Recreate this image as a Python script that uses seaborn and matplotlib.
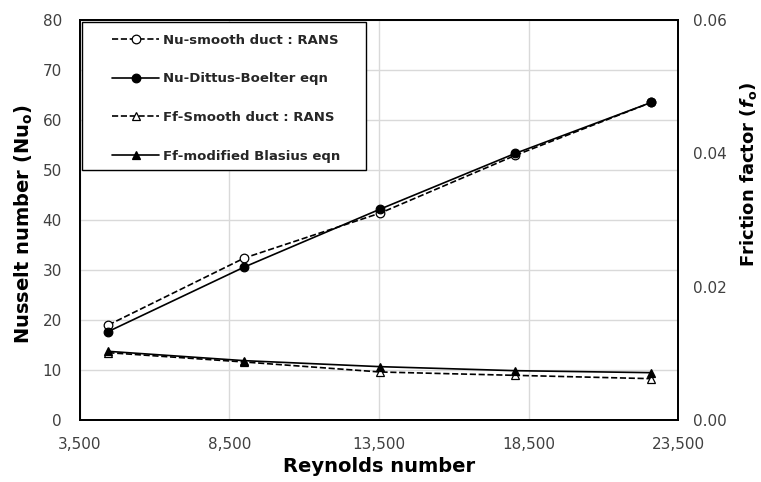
import matplotlib
matplotlib.use("Agg")
import matplotlib.pyplot as plt
from matplotlib.patches import Rectangle
import seaborn as sns
from matplotlib.ticker import FuncFormatter, FixedLocator, MultipleLocator

# Reynolds numbers of the simulated cases
reynolds = [4450, 9000, 13550, 18050, 22600]

# Nusselt number: RANS smooth duct and Dittus-Boelter correlation
nu_rans = [19.0, 32.4, 41.4, 52.9, 63.5]
nu_dittus = [17.7, 30.6, 42.2, 53.3, 63.5]

# Friction factor: RANS smooth duct and modified Blasius correlation
ff_rans = [0.0101, 0.0087, 0.0072, 0.0067, 0.0062]
ff_blasius = [0.0103, 0.0089, 0.0080, 0.0074, 0.0071]

x_ticks = [3500, 8500, 13500, 18500, 23500]

labels = [
    "Nu-smooth duct : RANS",
    "Nu-Dittus-Boelter eqn",
    "Ff-Smooth duct : RANS",
    "Ff-modified Blasius eqn",
]

sns.set_theme(style="white")
plt.rcParams["font.family"] = ["DejaVu Sans"]
plt.rcParams["mathtext.fontset"] = "custom"
plt.rcParams["mathtext.rm"] = "DejaVu Sans"
plt.rcParams["mathtext.it"] = "DejaVu Sans:italic:bold"
plt.rcParams["mathtext.bf"] = "DejaVu Sans:bold"

fig = plt.figure(figsize=(7.61, 4.82), dpi=100)
ax = fig.add_axes([0.105, 0.1286, 0.786, 0.83])
ax2 = ax.twinx()

line_kw = dict(color="black", linewidth=1.2, markersize=6.2, markeredgewidth=0.9)

sns.lineplot(x=reynolds, y=nu_rans, ax=ax, linestyle="--", marker="o",
             markerfacecolor="white", markeredgecolor="black", **line_kw)
sns.lineplot(x=reynolds, y=nu_dittus, ax=ax, linestyle="-", marker="o",
             markerfacecolor="black", markeredgecolor="black", **line_kw)
sns.lineplot(x=reynolds, y=ff_rans, ax=ax2, linestyle="--", marker="^",
             markerfacecolor="white", markeredgecolor="black", **line_kw)
sns.lineplot(x=reynolds, y=ff_blasius, ax=ax2, linestyle="-", marker="^",
             markerfacecolor="black", markeredgecolor="black", **line_kw)

ax.set_xlim(x_ticks[0], x_ticks[-1])
ax.set_ylim(0, 80)
ax2.set_ylim(0, 0.06)
ax.xaxis.set_major_locator(FixedLocator(x_ticks))
ax.yaxis.set_major_locator(MultipleLocator(10))
ax2.yaxis.set_major_locator(MultipleLocator(0.02))
ax.xaxis.set_major_formatter(FuncFormatter(lambda v, p: f"{v:,.0f}"))
ax2.yaxis.set_major_formatter(FuncFormatter(lambda v, p: f"{v:.2f}"))

ax.grid(True, color="#d9d9d9", linewidth=1.0)
ax2.grid(False)
ax.set_axisbelow(True)

tick_color = "#404040"
ax.tick_params(axis="x", length=0, pad=12, labelsize=11, labelcolor=tick_color)
ax.tick_params(axis="y", length=0, pad=13, labelsize=11, labelcolor=tick_color)
ax2.tick_params(axis="y", length=0, pad=11, labelsize=11, labelcolor=tick_color)

for a in (ax, ax2):
    for s in a.spines.values():
        s.set_color("black")
        s.set_linewidth(1.3)

ax.set_xlabel("Reynolds number", fontsize=14, fontweight="bold", labelpad=4,
              color="black")
ax.set_ylabel(r"Nusselt number (Nu$_\mathbf{o}$)", fontsize=14,
              fontweight="bold", color="black")
ax.yaxis.set_label_coords(-0.075, 0.49)
ax2.set_ylabel(r"Friction factor ($\mathit{f}_\mathbf{o}$)", fontsize=13,
               fontweight="bold", color="black")
ax2.yaxis.set_label_coords(1.100, 0.6125)

# legend frame drawn as a plain rectangle in axes coordinates
ax2.add_patch(Rectangle((0.0033, 0.625), 0.4747, 0.370, transform=ax2.transAxes,
                        facecolor="white", edgecolor="black", linewidth=1.0,
                        zorder=4))

handles = ax.get_lines()[:2] + ax2.get_lines()[:2]
leg = ax2.legend(handles, labels, loc="upper left",
                 bbox_to_anchor=(0.0535, 0.966), frameon=False,
                 prop=dict(size=9.5, weight="bold"), handlelength=3.6,
                 labelspacing=1.95, borderpad=0.0, handletextpad=0.3,
                 borderaxespad=0.0)
leg.set_zorder(5)

fig.savefig("out.png", dpi=100)
